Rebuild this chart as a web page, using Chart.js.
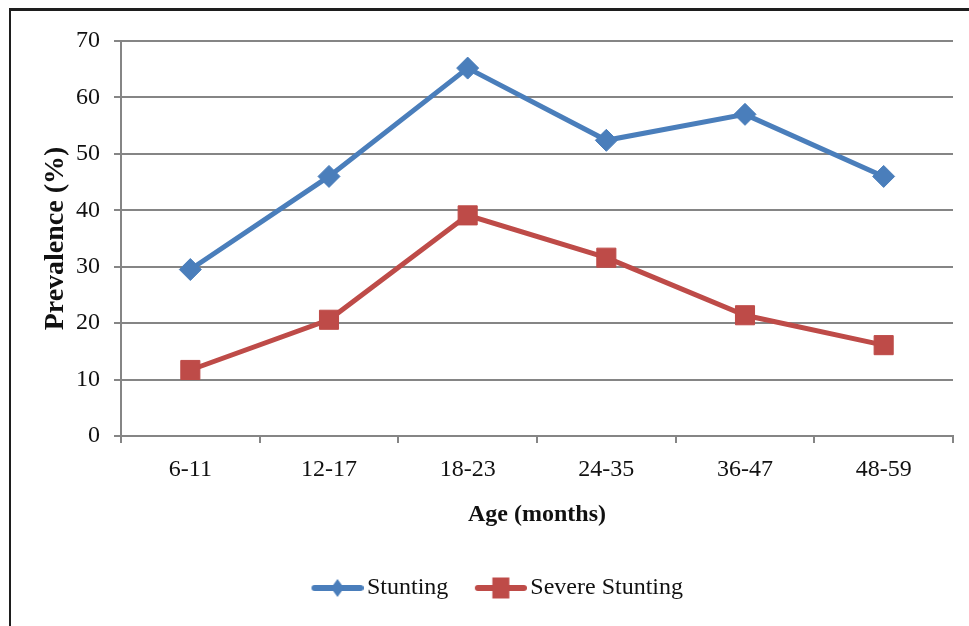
<!DOCTYPE html>
<html>
<head>
<meta charset="utf-8">
<script src="https://cdn.jsdelivr.net/npm/chart.js@4"></script>
<style>
  html, body { margin: 0; padding: 0; background: #fff; }
  #wrap { position: relative; width: 969px; height: 626px; overflow: hidden; }
  #frame { position: absolute; left: 9px; top: 8px; width: 1000px; height: 700px;
           border-left: 2px solid #1e1e1e; border-top: 3px solid #1e1e1e; pointer-events: none; }
  canvas { position: absolute; left: 0; top: 0; }
</style>
</head>
<body>
<div id="wrap">
  <canvas id="c" width="969" height="626"></canvas>
  <div id="frame"></div>
</div>
<script>
const categories = ['6-11', '12-17', '18-23', '24-35', '36-47', '48-59'];
const stunting = [29.5, 46, 65.2, 52.4, 57, 46];
const severeStunting = [11.7, 20.6, 39.1, 31.6, 21.4, 16.1];
const seriesNames = ['Stunting', 'Severe Stunting'];
const yTicks = [0, 10, 20, 30, 40, 50, 60, 70];

const BLUE = '#4A7EBB';
const RED = '#BE4B48';
const GRID = '#858585';
const TEXT = '#111';
const SERIF = '"Liberation Serif", "Times New Roman", serif';

function legendIcon(color, shape) {
  const cv = document.createElement('canvas');
  cv.width = 86; cv.height = 26;
  const g = cv.getContext('2d');
  g.strokeStyle = color; g.lineWidth = 6; g.lineCap = 'round';
  g.beginPath(); g.moveTo(37, 13); g.lineTo(83, 13); g.stroke();
  g.fillStyle = color;
  g.beginPath();
  if (shape === 'diamond') {
    g.moveTo(60, 4); g.lineTo(66.5, 13); g.lineTo(60, 22); g.lineTo(53.5, 13);
  } else {
    g.rect(51.5, 2.5, 17, 21);
  }
  g.closePath(); g.fill();
  return cv;
}

const icons = [legendIcon(BLUE, 'diamond'), legendIcon(RED, 'square')];

new Chart(document.getElementById('c'), {
  type: 'line',
  data: {
    labels: categories,
    datasets: [
      {
        label: seriesNames[0], data: stunting,
        borderColor: BLUE, backgroundColor: BLUE, borderWidth: 5,
        pointStyle: 'rectRot', pointRadius: 11, pointBorderWidth: 1,
        pointBackgroundColor: BLUE, pointBorderColor: BLUE, tension: 0
      },
      {
        label: seriesNames[1], data: severeStunting,
        borderColor: RED, backgroundColor: RED, borderWidth: 5,
        pointStyle: 'rect', pointRadius: 13.5, pointBorderWidth: 1,
        pointBackgroundColor: RED, pointBorderColor: RED, tension: 0
      }
    ]
  },
  options: {
    responsive: false,
    animation: false,
    devicePixelRatio: 1,
    layout: { padding: { left: 0, right: 0, top: 41, bottom: 16 } },
    plugins: {
      tooltip: { enabled: false },
      legend: {
        position: 'bottom',
        align: 'center',
        labels: {
          usePointStyle: true,
          pointStyleWidth: 69,
          padding: 1,
          color: TEXT,
          font: { family: SERIF, size: 24 },
          generateLabels: (chart) => chart.data.datasets.map((ds, i) => ({
            text: ds.label,
            pointStyle: icons[i],
            fillStyle: ds.borderColor,
            strokeStyle: ds.borderColor,
            lineWidth: 0,
            fontColor: TEXT,
            hidden: false,
            datasetIndex: i
          }))
        }
      }
    },
    scales: {
      x: {
        type: 'category',
        offset: true,
        grid: { display: true, drawOnChartArea: false, drawTicks: true, tickLength: 7, offset: true, color: GRID, lineWidth: 2 },
        border: { display: true, color: GRID, width: 2 },
        ticks: { color: TEXT, padding: 12, font: { family: SERIF, size: 24 }, maxRotation: 0 },
        title: {
          display: true, text: 'Age (months)', color: TEXT,
          font: { family: SERIF, size: 24, weight: 'bold' },
          padding: { top: 5, bottom: 45.4 }
        }
      },
      y: {
        type: 'linear', position: 'left',
        min: 0, max: 70,
        afterBuildTicks: (s) => { s.ticks = yTicks.map(v => ({ value: v })); },
        grid: { display: true, drawTicks: true, tickLength: 7, color: GRID, lineWidth: 2 },
        border: { display: true, color: GRID, width: 2 },
        ticks: { color: TEXT, padding: 14, font: { family: SERIF, size: 24 } },
        title: {
          display: true, text: 'Prevalence (%)', color: TEXT,
          font: { family: SERIF, size: 28, weight: 'bold' },
          padding: { top: 39, bottom: 0 }
        },
        afterFit: (s) => { s.width = 121; }
      },
      yRight: {
        type: 'linear', position: 'right', display: true,
        grid: { display: false, drawTicks: false },
        border: { display: false },
        ticks: { display: false },
        afterFit: (s) => { s.width = 16; }
      }
    }
  }
});
</script>
</body>
</html>
